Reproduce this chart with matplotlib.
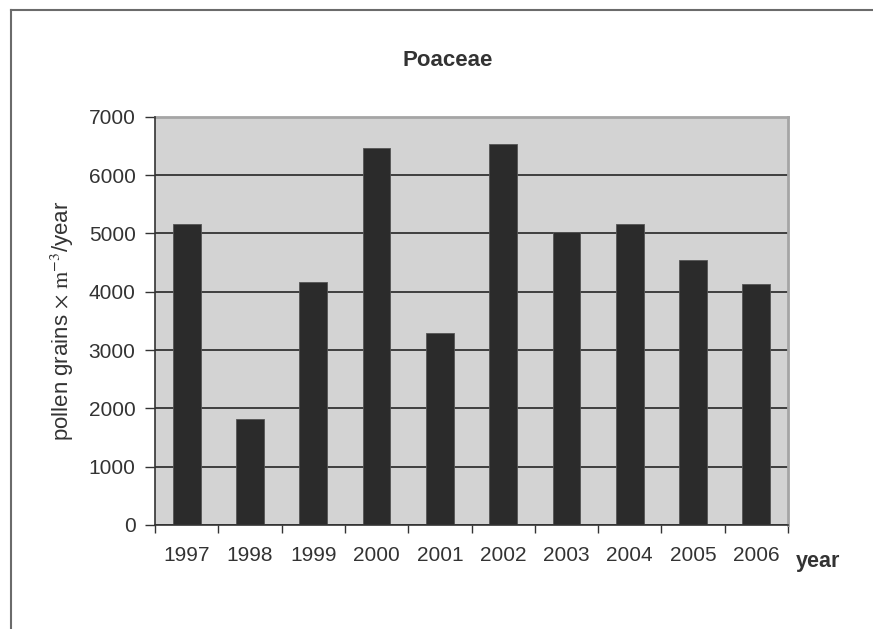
import matplotlib
matplotlib.use("Agg")
import matplotlib.pyplot as plt
from matplotlib.lines import Line2D
import numpy as np

plt.rcParams['font.family'] = ['Liberation Sans', 'DejaVu Sans']
plt.rcParams['mathtext.fontset'] = 'stix'

anos = ["1997", "1998", "1999", "2000", "2001", "2002", "2003", "2004", "2005", "2006"]
polen = [5155, 1810, 4170, 6460, 3290, 6530, 5030, 5155, 4540, 4130]
yticks = [0, 1000, 2000, 3000, 4000, 5000, 6000, 7000]

fig = plt.figure(figsize=(8.73, 6.29), dpi=100)
ax = fig.add_axes([155/873, 104/629, 633/873, 408.3/629])

x = np.arange(len(anos))
ax.bar(x, polen, width=0.44, color="#2b2b2b", edgecolor="#555555", linewidth=0.6, zorder=3)

ax.set_facecolor("#d3d3d3")
ax.set_xlim(-0.5, len(anos) - 0.5)
ax.set_ylim(0, 7000)
ax.set_yticks(yticks)
ax.yaxis.grid(True, color="#333333", lw=1.3, zorder=1)
ax.set_axisbelow(True)

# ticks nas divisas entre categorias, rotulos no meio
ax.set_xticks(np.arange(-0.5, len(anos), 1))
ax.set_xticklabels([])
ax.set_xticks(x, minor=True)
ax.set_xticklabels(anos, minor=True)
ax.tick_params(axis="x", which="major", length=6, width=1, color="#333333", direction="out")
ax.tick_params(axis="x", which="minor", length=0, pad=15, labelsize=15, labelcolor="#333333")
ax.tick_params(axis="y", length=7, width=1, color="#333333", pad=7, labelsize=15, labelcolor="#333333")

for s in ["top", "right"]:
    ax.spines[s].set_color("#a5a5a5")
    ax.spines[s].set_linewidth(2)
for s in ["left", "bottom"]:
    ax.spines[s].set_color("#333333")
    ax.spines[s].set_linewidth(1.2)
    ax.spines[s].set_zorder(4)

ax.set_ylabel(r"pollen grains$\,\times\,\mathrm{m}^{-3}$/year", fontsize=16, color="#333333", labelpad=9)

fig.text(448/873, 1 - 60/629, "Poaceae", fontsize=16, fontweight="bold", color="#333333",
         ha="center", va="center")
fig.text(796/873, 1 - 562/629, "year", fontsize=15.5, fontweight="bold", color="#333333",
         ha="left", va="center")

# moldura externa
fig.add_artist(Line2D([11/873, 11/873], [0, 1 - 10/629], transform=fig.transFigure, color="#6b6b6b", lw=1.5))
fig.add_artist(Line2D([11/873, 1], [1 - 10/629, 1 - 10/629], transform=fig.transFigure, color="#6b6b6b", lw=1.5))

fig.savefig("out.png", dpi=100)
